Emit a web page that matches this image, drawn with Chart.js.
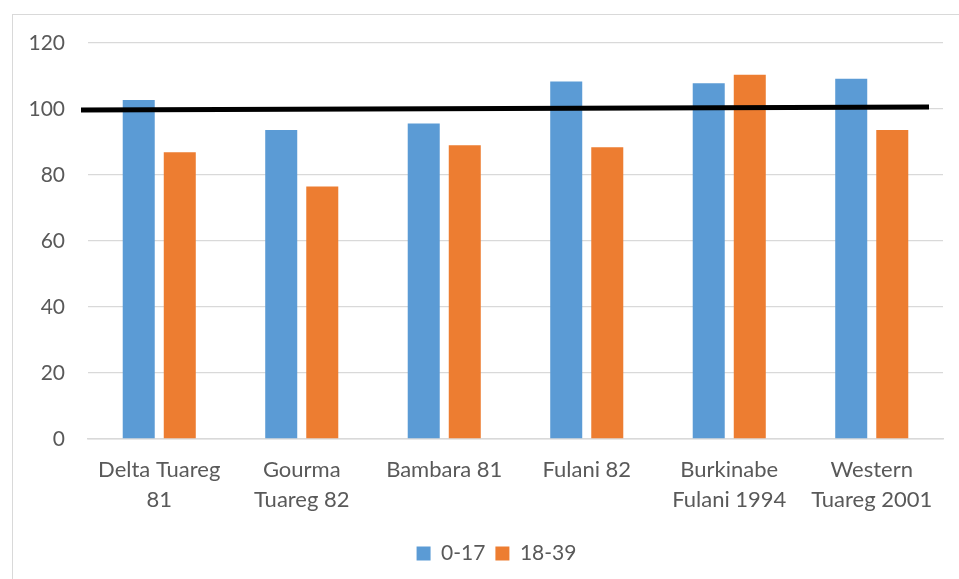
<!DOCTYPE html>
<html>
<head>
<meta charset="utf-8">
<script src="https://cdn.jsdelivr.net/npm/chart.js@4/dist/chart.umd.min.js"></script>
<style>
  html, body { margin: 0; padding: 0; background: #ffffff; }
  #wrap { position: relative; width: 959px; height: 579px; overflow: hidden; }
  #frame { position: absolute; left: 12px; top: 14px; width: 1000px; height: 1000px; border: 1px solid #d9d9d9; box-sizing: border-box; }
  #c { position: absolute; left: 0; top: 0; }
</style>
</head>
<body>
<div id="wrap">
  <div id="frame"></div>
  <canvas id="c" width="959" height="579"></canvas>
</div>
<script>
const categories = [
  ['Delta Tuareg', '81'],
  ['Gourma', 'Tuareg 82'],
  'Bambara 81',
  'Fulani 82',
  ['Burkinabe', 'Fulani 1994'],
  ['Western', 'Tuareg 2001']
];
const seriesNames = ['0-17', '18-39'];
const values0to17 = [102.7, 93.6, 95.6, 108.3, 107.8, 109.2];
const values18to39 = [86.9, 76.5, 89.0, 88.4, 110.4, 93.6];
const yTicks = [0, 20, 40, 60, 80, 100, 120];
// hand-drawn reference line: start/end as fraction of plot width, and its y values
const refLineX = [-0.0082, 0.9836];
const refLineY = [99.7, 100.6];

const textColor = '#595959';
const gridColor = '#d9d9d9';
const fontFamily = 'Lato, "Open Sans", sans-serif';

const refLinePlugin = {
  id: 'refLine',
  afterDatasetsDraw(chart) {
    const { ctx, chartArea, scales } = chart;
    const y = scales.y;
    const w = chartArea.right - chartArea.left;
    ctx.save();
    ctx.strokeStyle = '#000000';
    ctx.lineWidth = 5;
    ctx.lineCap = 'butt';
    ctx.beginPath();
    refLineX.forEach((fx, i) => {
      const px = chartArea.left + fx * w;
      const py = y.getPixelForValue(refLineY[i]);
      if (i === 0) ctx.moveTo(px, py); else ctx.lineTo(px, py);
    });
    ctx.stroke();
    ctx.restore();
  }
};

// centre the legend under the frame rather than the whole canvas
const legendShiftPlugin = {
  id: 'legendShift',
  afterLayout(chart) {
    if (chart.legend) chart.legend.left += 50;
  }
};

new Chart(document.getElementById('c'), {
  type: 'bar',
  data: {
    labels: categories,
    datasets: [
      {
        label: seriesNames[0],
        data: values0to17,
        backgroundColor: '#5b9bd5',
        barPercentage: 0.78,
        categoryPercentage: 0.576
      },
      {
        label: seriesNames[1],
        data: values18to39,
        backgroundColor: '#ed7d31',
        barPercentage: 0.78,
        categoryPercentage: 0.576
      }
    ]
  },
  plugins: [refLinePlugin, legendShiftPlugin],
  options: {
    responsive: false,
    animation: false,
    devicePixelRatio: 1,
    layout: { padding: { top: 43, right: 16, left: 0, bottom: 5 } },
    plugins: {
      tooltip: { enabled: false },
      legend: {
        position: 'bottom',
        labels: {
          color: textColor,
          font: { family: fontFamily, size: 21 },
          boxWidth: 14,
          boxHeight: 14,
          padding: 10
        }
      }
    },
    scales: {
      x: {
        grid: { display: false, drawTicks: false },
        border: { display: true, color: gridColor, width: 1.5 },
        ticks: {
          color: textColor,
          font: { family: fontFamily, size: 22, lineHeight: 1.35 },
          padding: 16,
          maxRotation: 0,
          autoSkip: false
        },
        afterFit: (s) => { s.height = 94; }
      },
      y: {
        min: 0,
        max: 120,
        afterBuildTicks: (s) => { s.ticks = yTicks.map(v => ({ value: v })); },
        grid: { color: gridColor, lineWidth: 1.3, drawTicks: false },
        border: { display: false },
        ticks: {
          color: textColor,
          font: { family: fontFamily, size: 21 },
          padding: 23
        },
        afterFit: (s) => { s.width = 88; }
      }
    }
  }
});
</script>
</body>
</html>
